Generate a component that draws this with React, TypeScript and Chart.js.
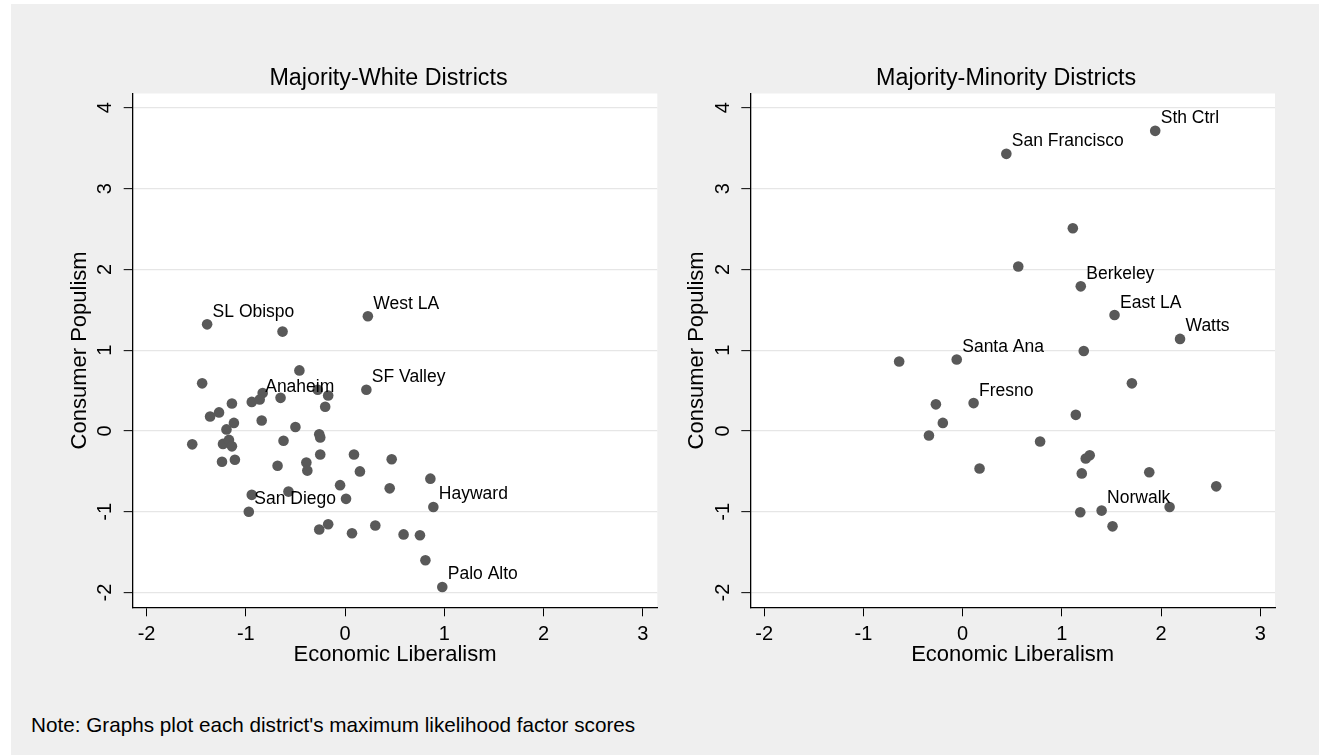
import { useEffect, useRef } from "react";
import { Chart, registerables } from "chart.js";

Chart.register(...registerables);

const FONT = '"Liberation Sans", Arial, Helvetica, sans-serif';
Chart.defaults.font.family = FONT;

// axis ticks
const xTicks = [-2, -1, 0, 1, 2, 3];
const yTicks = [-2, -1, 0, 1, 2, 3, 4];

// Majority-White districts
const whiteX = [
  -1.39, -0.63, 0.23, -0.46, -1.44, 0.215, -0.83, -0.65, -0.275, -0.17,
  -1.14, -0.94, -0.86, -0.2, -1.36, -1.27, -0.84, -1.12, -0.5, -1.195,
  -1.54, -1.23, -1.17, -1.14, -0.62, -0.26, -0.25, -1.24, -1.11, -0.68,
  -0.39, -0.38, -0.25, 0.09, 0.47, 0.15, -0.05, 0.45, -0.94, -0.57,
  0.01, -0.97, -0.26, -0.17, 0.07, 0.305, 0.59, 0.86, 0.89, 0.755,
  0.81, 0.98,
];
const whiteY = [
  1.32, 1.23, 1.42, 0.75, 0.59, 0.51, 0.47, 0.41, 0.51, 0.44,
  0.34, 0.36, 0.39, 0.3, 0.18, 0.23, 0.13, 0.1, 0.05, 0.02,
  -0.165, -0.16, -0.11, -0.19, -0.12, -0.04, -0.08, -0.38, -0.355, -0.43,
  -0.39, -0.49, -0.29, -0.29, -0.35, -0.5, -0.67, -0.71, -0.79, -0.75,
  -0.84, -1.0, -1.22, -1.155, -1.265, -1.17, -1.28, -0.59, -0.94, -1.29,
  -1.6, -1.93,
];
const whiteNames = [
  "SL Obispo", "", "West LA", "", "", "SF Valley", "", "", "", "",
  "", "", "Anaheim", "", "", "", "", "", "", "",
  "", "", "", "", "", "", "", "", "", "",
  "", "", "", "", "", "", "", "", "", "",
  "", "San Diego", "", "", "", "", "", "", "Hayward", "",
  "", "Palo Alto",
];

// Majority-Minority districts
const minorityX = [
  1.94, 0.44, 1.11, 0.56, 1.19, 1.53, 2.19, -0.64, -0.06, 1.22,
  1.705, -0.27, 0.11, 1.14, -0.2, -0.34, 0.78, 1.28, 1.24, 0.17,
  1.2, 1.88, 2.555, 1.4, 1.185, 2.085, 1.51,
];
const minorityY = [
  3.715, 3.43, 2.51, 2.035, 1.79, 1.435, 1.14, 0.86, 0.885, 0.99,
  0.59, 0.33, 0.345, 0.2, 0.1, -0.055, -0.13, -0.3, -0.34, -0.465,
  -0.525, -0.51, -0.685, -0.985, -1.005, -0.94, -1.18,
];
const minorityNames = [
  "Sth Ctrl", "San Francisco", "", "", "Berkeley", "East LA", "Watts", "", "Santa Ana", "",
  "", "", "Fresno", "", "", "", "", "", "", "",
  "", "", "", "Norwalk", "", "", "",
];

const NOTE = "Note: Graphs plot each district's maximum likelihood factor scores";

const panelPlugin = {
  id: "panel",
  beforeDraw(chart: any) {
    const { ctx, chartArea: a } = chart;
    ctx.save();
    ctx.fillStyle = "#ffffff";
    ctx.fillRect(a.left, a.top, a.right - a.left, a.bottom - a.top);
    ctx.restore();
  },
  afterDatasetsDraw(chart: any, _args: any, opts: any) {
    const { ctx, chartArea: a } = chart;
    const meta = chart.getDatasetMeta(0);
    ctx.save();
    ctx.fillStyle = "#000";
    ctx.textBaseline = "alphabetic";
    ctx.textAlign = "left";
    ctx.font = `17.5px ${FONT}`;
    meta.data.forEach((pt: any, i: number) => {
      const name = opts.names[i];
      if (name) ctx.fillText(name, pt.x + 5.5, pt.y - 7.5);
    });
    ctx.font = `23.3px ${FONT}`;
    ctx.textAlign = "center";
    ctx.fillText(opts.title, (a.left + a.right) / 2 - 6.5, 85);
    ctx.restore();
  },
};

type PanelProps = {
  left: number;
  width: number;
  yWidth: number;
  padRight: number;
  yTitlePad: number;
  title: string;
  xs: number[];
  ys: number[];
  names: string[];
};

const HEIGHT = 700;
const X_HEIGHT = 70;

const Panel = ({ left, width, yWidth, padRight, yTitlePad, title, xs, ys, names }: PanelProps) => {
  const chartRef = useRef<HTMLCanvasElement>(null);

  useEffect(() => {
    if (!chartRef.current) return;

    const chart = new Chart(chartRef.current, {
      type: "scatter",
      data: {
        datasets: [
          {
            data: xs.map((x, i) => ({ x, y: ys[i] })),
            pointRadius: 5.3,
            pointBackgroundColor: "#595959",
            pointBorderWidth: 0,
          },
        ],
      },
      options: {
        responsive: false,
        animation: false,
        events: [],
        layout: {
          padding: {
            left: 0,
            top: 93.5,
            right: padRight,
            bottom: HEIGHT - 607.3 - X_HEIGHT,
          },
        },
        scales: {
          x: {
            type: "linear",
            min: -2.14,
            max: 3.147,
            afterBuildTicks: (s: any) => {
              s.ticks = xTicks.map((v) => ({ value: v }));
            },
            afterFit: (s: any) => {
              s.height = X_HEIGHT;
            },
            grid: { drawOnChartArea: false, tickLength: 9, tickColor: "#000", tickWidth: 1 },
            border: { color: "#000", width: 1.3 },
            ticks: { color: "#000", font: { size: 20 }, padding: 6.2, maxRotation: 0, autoSkip: false },
            title: {
              display: true,
              text: "Economic Liberalism",
              color: "#000",
              font: { size: 22 },
              padding: { top: 0, bottom: 9.3 },
            },
          },
          y: {
            type: "linear",
            min: -2.182,
            max: 4.177,
            afterBuildTicks: (s: any) => {
              s.ticks = yTicks.map((v) => ({ value: v }));
            },
            afterFit: (s: any) => {
              s.width = yWidth;
            },
            grid: { color: "#e6e6e6", lineWidth: 1.3, tickLength: 9, tickColor: "#000", tickWidth: 1 },
            border: { color: "#000", width: 1.3 },
            ticks: {
              color: "#000",
              font: { size: 20 },
              padding: 9,
              minRotation: 90,
              maxRotation: 90,
              crossAlign: "center",
              autoSkip: false,
            },
            title: {
              display: true,
              text: "Consumer Populism",
              color: "#000",
              font: { size: 22 },
              padding: { top: yTitlePad, bottom: 0 },
            },
          },
        },
        plugins: {
          legend: { display: false },
          tooltip: { enabled: false },
          panel: { names, title },
        } as any,
      },
      plugins: [panelPlugin],
    });

    return () => {
      chart.destroy();
    };
  }, [xs, ys, names, title, yWidth, padRight, yTitlePad]);

  return (
    <canvas
      ref={chartRef}
      width={width}
      height={HEIGHT}
      style={{ position: "absolute", left, top: 0, width, height: HEIGHT }}
    ></canvas>
  );
};

const App = () => {
  return (
    <div
      style={{
        position: "fixed",
        left: 0,
        top: 0,
        width: 1319,
        height: 755,
        background: "#fff",
        overflow: "hidden",
        fontFamily: FONT,
      }}
    >
      <div style={{ position: "absolute", left: 11, top: 4, right: 0, bottom: 0, background: "#efefef" }} />
      <Panel
        left={0}
        width={700}
        yWidth={132.7}
        padRight={700 - 657.3}
        yTitlePad={66.3}
        title="Majority-White Districts"
        xs={whiteX}
        ys={whiteY}
        names={whiteNames}
      />
      <Panel
        left={620}
        width={699}
        yWidth={130.3}
        padRight={699 - 655}
        yTitlePad={63.9}
        title="Majority-Minority Districts"
        xs={minorityX}
        ys={minorityY}
        names={minorityNames}
      />
      <div
        style={{
          position: "absolute",
          left: 31,
          top: 715.2,
          fontSize: 20.7,
          lineHeight: 1,
          color: "#000",
          whiteSpace: "nowrap",
        }}
      >
        {NOTE}
      </div>
    </div>
  );
};

export default App;
